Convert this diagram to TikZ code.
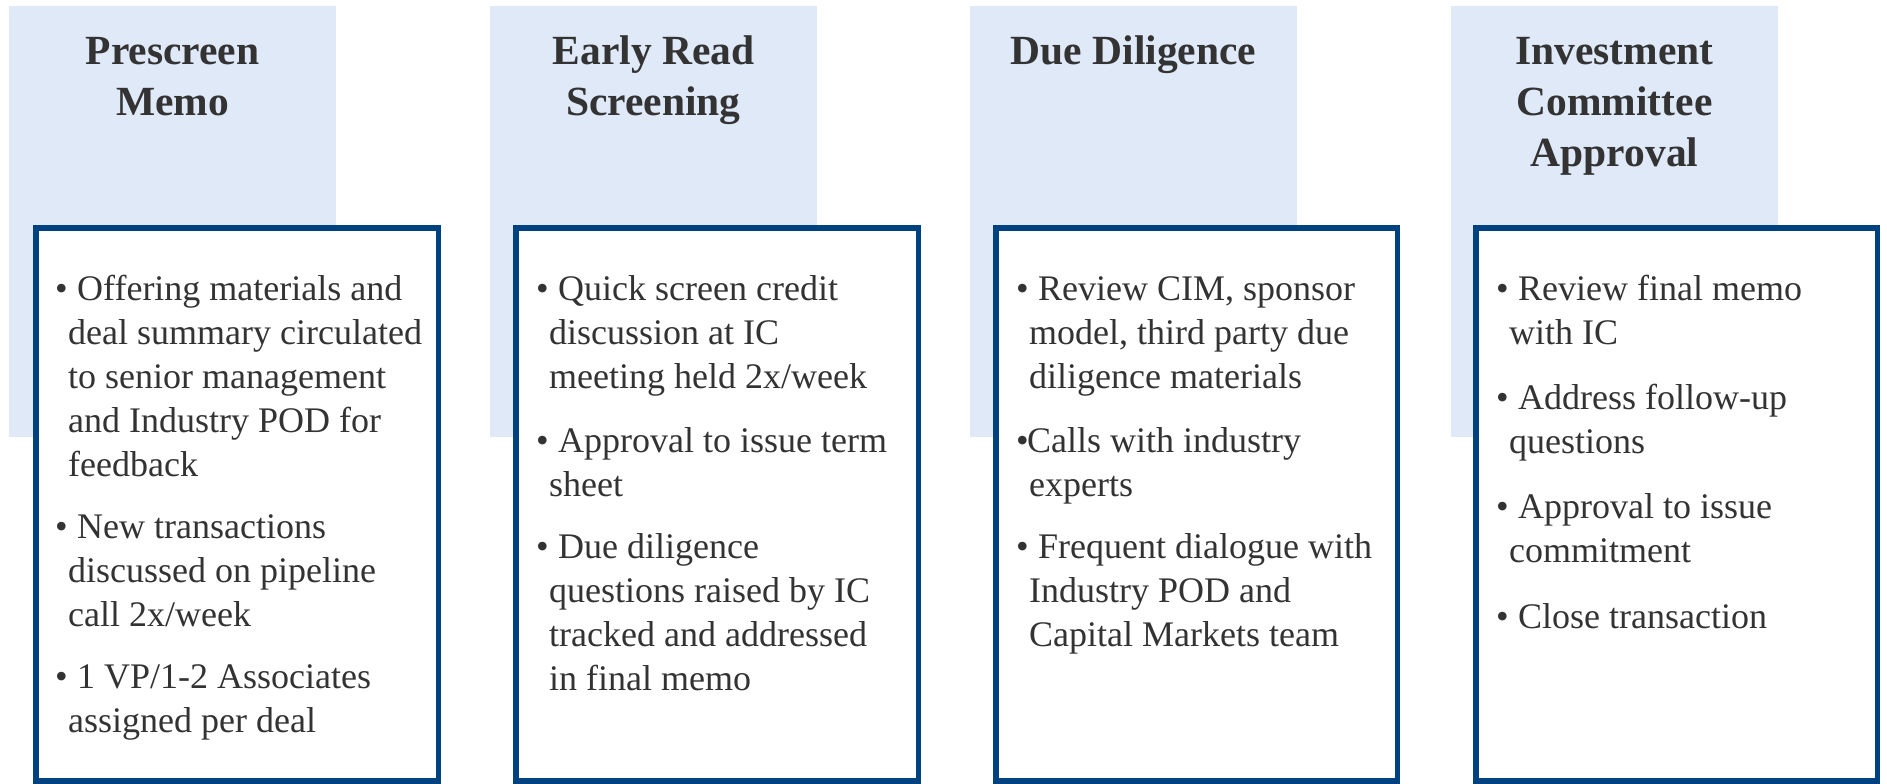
\documentclass[tikz,border=0pt]{standalone}
\usepackage{fontspec}
\setmainfont{Liberation Serif}
\definecolor{lightfill}{HTML}{DFE9F8}
\definecolor{boxblue}{RGB}{0,66,128}
\definecolor{txt}{HTML}{333333}
\newcommand{\bl}{\makebox[22pt][l]{•}}
\newcommand{\blc}{\makebox[11pt][l]{•}}
\newcommand{\ci}{\hspace*{13pt}}
\tikzset{
  lightrect/.style={fill=lightfill, draw=none},
  mainbox/.style={draw=boxblue, line width=5.5pt, fill=white},
  titletext/.style={anchor=base, inner sep=0pt, text=txt, font=\bfseries\fontsize{41.5}{51}\selectfont},
  bodytext/.style={anchor=base west, inner sep=0pt, text=txt, font=\fontsize{36}{44}\selectfont},
}
\begin{document}
\begin{tikzpicture}[x=1pt,y=-1pt]
\useasboundingbox (0,0) rectangle (1887,784);
% light header panels
\fill[lightrect] (9,6) rectangle (336,437);
\fill[lightrect] (490,6) rectangle (817,437);
\fill[lightrect] (970,6) rectangle (1297,437);
\fill[lightrect] (1451,6) rectangle (1778,437);
% framed boxes
\draw[mainbox] (35.75,227.75) rectangle (438.25,781);
\draw[mainbox] (515.75,227.75) rectangle (918.25,781);
\draw[mainbox] (995.75,227.75) rectangle (1397.25,781);
\draw[mainbox] (1475.75,227.75) rectangle (1877.25,781);
% titles
\node[titletext] (t1) at (172.5,65) {\parbox[t]{320pt}{\centering Prescreen\\Memo}};
\node[titletext] (t2) at (653.5,65) {\parbox[t]{320pt}{\centering Early Read\\Screening}};
\node[titletext] (t3) at (1133.5,65) {\parbox[t]{320pt}{\centering Due Diligence}};
\node[titletext] (t4) at (1614.5,65) {\parbox[t]{320pt}{\centering Investment\\Committee\\Approval}};
% bodies
\node[bodytext] (b1) at (55,300) {\parbox[t]{380pt}{%
\bl Offering materials and\\
\ci deal summary circulated\\
\ci to senior management\\
\ci and Industry POD for\\
\ci feedback\\[18pt]
\bl New transactions\\
\ci discussed on pipeline\\
\ci call 2x/week\\[18pt]
\bl 1 VP/1-2 Associates\\
\ci assigned per deal}};
\node[bodytext] (b2) at (536,300) {\parbox[t]{380pt}{%
\bl Quick screen credit\\
\ci discussion at IC\\
\ci meeting held 2x/week\\[20pt]
\bl Approval to issue term\\
\ci sheet\\[18pt]
\bl Due diligence\\
\ci questions raised by IC\\
\ci tracked and addressed\\
\ci in final memo}};
\node[bodytext] (b3) at (1016,300) {\parbox[t]{380pt}{%
\bl Review CIM, sponsor\\
\ci model, third party due\\
\ci diligence materials\\[20pt]
\blc Calls with industry\\
\ci experts\\[18pt]
\bl Frequent dialogue with\\
\ci Industry POD and\\
\ci Capital Markets team}};
\node[bodytext] (b4) at (1496,300) {\parbox[t]{380pt}{%
\bl Review final memo\\
\ci with IC\\[21pt]
\bl Address follow-up\\
\ci questions\\[21pt]
\bl Approval to issue\\
\ci commitment\\[22pt]
\bl Close transaction}};
\end{tikzpicture}
\end{document}
